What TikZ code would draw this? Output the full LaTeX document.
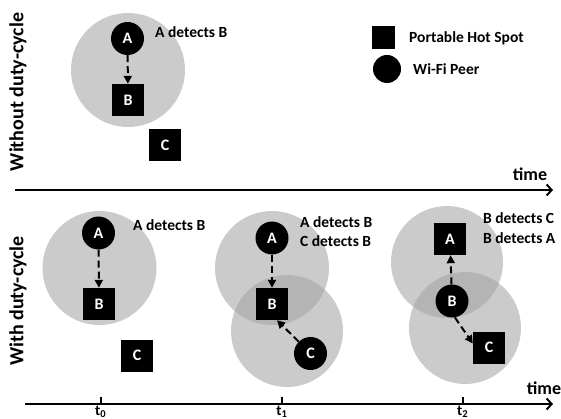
\documentclass[tikz,border=0pt]{standalone}
\usepackage{fontspec}
\setmainfont{Carlito}
\usetikzlibrary{arrows.meta}
\definecolor{rangegray}{HTML}{CBCBCB}
\definecolor{overlapgray}{HTML}{B4B4B4}
\tikzset{
  peer/.style={circle,fill=black,text=white,minimum size=33pt,inner sep=0pt,font=\fontsize{16}{16}\selectfont\bfseries},
  hotspot/.style={rectangle,fill=black,text=white,minimum size=32pt,inner sep=0pt,font=\fontsize{16}{16}\selectfont\bfseries},
  lbl/.style={anchor=west,inner sep=0pt,font=\fontsize{15.5}{15.5}\selectfont\bfseries},
  sidelbl/.style={rotate=90,inner sep=0pt,font=\fontsize{20}{20}\selectfont\bfseries},
  timelbl/.style={inner sep=0pt,font=\fontsize{18}{18}\selectfont\bfseries},
  ticklbl/.style={inner sep=0pt,font=\fontsize{15}{15}\selectfont\bfseries},
  axis/.style={line width=2.5pt,-{Straight Barb[length=5pt,width=11pt,line width=2pt]}},
  detect/.style={line width=2pt,dash pattern=on 7pt off 4pt,-{Triangle[length=8pt,width=8pt]}},
  rangefill/.style={fill=rangegray}
}
\begin{document}
\begin{tikzpicture}[x=1pt,y=-1pt]
\useasboundingbox (0,0) rectangle (561,419);
% ranges
\fill[rangefill] (128,70) circle (57);
\fill[rangefill] (99.5,268) circle (57);
\fill[rangefill] (272,268) circle (57);
\fill[rangefill] (287,331) circle (56);
\fill[rangefill] (447,262) circle (56);
\fill[rangefill] (465,328) circle (56);
\begin{scope}
  \clip (272,268) circle (57);
  \fill[overlapgray] (287,331) circle (56);
\end{scope}
\begin{scope}
  \clip (447,262) circle (56);
  \fill[overlapgray] (465,328) circle (56);
\end{scope}
% side labels
\node[sidelbl] (lwo) at (18,92) {Without duty-cycle};
\node[sidelbl] (lw) at (18,301) {With duty-cycle};
% axes
\coordinate (ax1s) at (15,190);
\coordinate (ax1e) at (553,190);
\coordinate (ax2s) at (25,404);
\coordinate (ax2e) at (553,404);
\draw[axis] (ax1s) -- (ax1e);
\draw[axis] (ax2s) -- (ax2e);
\node[timelbl] (time1) at (530,174) {time};
\node[timelbl] (time2) at (544,388) {time};
% ticks
\foreach \n/\x/\s in {t0/100.7/0,t1/282/1,t2/462.7/2}{
  \coordinate (\n top) at (\x,397);
  \coordinate (\n bot) at (\x,404);
  \draw[line width=2pt] (\n top) -- (\n bot);
  \node[ticklbl] (\n lbl) at (\x,412) {t\textsubscript{\s}};
}
% legend
\node[hotspot,minimum size=23pt] (leghs) at (383.5,37.5) {};
\node[lbl] (leghst) at (409,38) {Portable Hot Spot};
\node[peer,minimum size=28pt] (legpeer) at (387,69) {};
\node[lbl] (legpeert) at (413,69.5) {Wi-Fi Peer};
% top: without duty-cycle
\node[peer] (A0) at (127.5,38.5) {A};
\node[hotspot] (B0) at (128,100) {B};
\node[hotspot] (C0) at (165,145) {C};
\node[lbl] (d0) at (155,32.5) {A detects B};
\draw[detect] (A0) -- (B0);
% t0
\node[peer] (A1) at (98.5,233) {A};
\node[hotspot] (B1) at (99,304) {B};
\node[hotspot] (C1) at (137,355.5) {C};
\node[lbl] (d1) at (133,225.5) {A detects B};
\draw[detect] (A1) -- (B1);
% t1
\node[peer] (A2) at (272,238) {A};
\node[hotspot] (B2) at (272,304) {B};
\node[peer] (C2) at (310.5,353.5) {C};
\node[lbl] (d2a) at (300,222) {A detects B};
\node[lbl] (d2b) at (300,241) {C detects B};
\draw[detect] (A2) -- (B2);
\draw[detect] (C2.135) -- ([xshift=5pt]B2.south);
% t2
\node[hotspot] (A3) at (450,239) {A};
\node[peer] (B3) at (452,301) {B};
\node[hotspot] (C3) at (489,347.5) {C};
\node[lbl] (d3a) at (483,218.5) {B detects C};
\node[lbl] (d3b) at (483,238.5) {B detects A};
\draw[detect] (B3) -- (A3);
\draw[detect] (B3.-80) -- ([yshift=4pt]C3.west);
\end{tikzpicture}
\end{document}
